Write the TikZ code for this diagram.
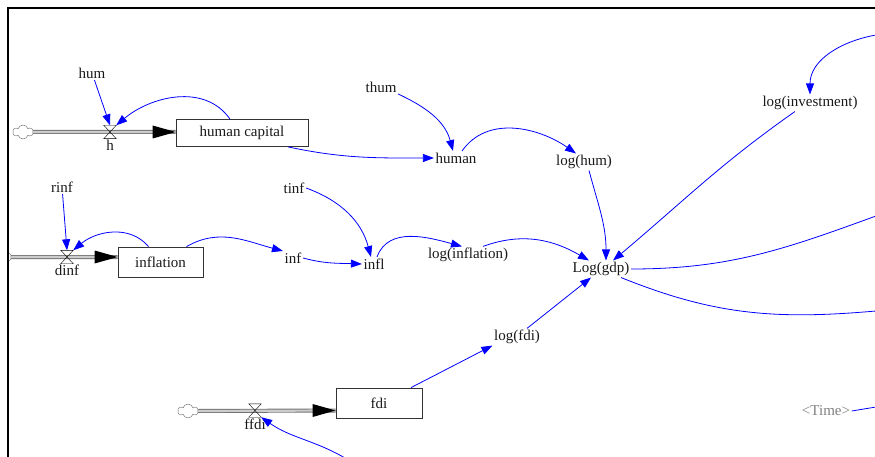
\documentclass[tikz,border=0pt]{standalone}
\usepackage{fontspec}
\setmainfont{Liberation Serif}
\usetikzlibrary{arrows.meta,shapes.symbols,positioning}

\tikzset{
	varname/.style={inner sep=1.5pt, text=black!90},
	stockbox/.style={draw=black!80, line width=0.8pt, fill=white, inner sep=0pt, text=black!90},
	valve/.style={minimum width=12pt, minimum height=13pt, inner sep=0pt},
	pipe/.style={draw=black!55, double=black!20, double distance=2.2pt, line width=0.9pt},
	link/.style={blue, line width=0.8pt, -{Triangle[length=11pt,width=8pt]}},
	wire/.style={blue, line width=0.8pt},
	cloudy/.style={cloud, cloud puffs=6, aspect=1.5, draw=black!60, fill=white, minimum width=20pt, minimum height=14pt, inner sep=0pt}
}

\begin{document}
\begin{tikzpicture}[x=1pt,y=1pt,font=\fontsize{15}{18}\selectfont]
		\useasboundingbox (0,0) rectangle (875,-457);
		% frame
		\draw [line width=2pt] (8,-458) -- (8,-8) -- (876,-8);

		% human capital stock and its flow
		\node [cloudy] (cloudh) at (23,-132) {};
		\node [stockbox, minimum width=132pt, minimum height=27pt] (hcap) at (242,-133) {human capital};
		\node [valve] (h) at (110,-132) {};
		\draw [pipe] (cloudh.east) -- (hcap.west |- h);
		\fill (hcap.west |- h) -- ++(-23,6.5) -- ++(0,-13) -- cycle;
		\draw (h.north west) -- (h.north east) -- (h.south west) -- (h.south east) -- cycle;
		\node [varname, below=0pt of h] (hname) {h};

		% inflation stock and its flow
		\begin{scope}
			\clip (9,-240) rectangle (40,-275);
			\node [cloudy] (cloudinf) at (1,-257) {};
		\end{scope}
		\node [stockbox, minimum width=85pt, minimum height=30pt] (inflation) at (160.5,-262) {inflation};
		\node [valve] (dinf) at (67,-257) {};
		\draw [pipe] (cloudinf.east) -- (inflation.west |- dinf);
		\fill (inflation.west |- dinf) -- ++(-23,6.5) -- ++(0,-13) -- cycle;
		\draw (dinf.north west) -- (dinf.north east) -- (dinf.south west) -- (dinf.south east) -- cycle;
		\node [varname, below=0pt of dinf] (dinfname) {dinf};

		% fdi stock and its flow
		\node [cloudy] (cloudfdi) at (188,-411) {};
		\node [stockbox, minimum width=86pt, minimum height=30pt] (fdi) at (379,-403) {fdi};
		\node [valve] (ffdi) at (255,-410.5) {};
		\draw [pipe] (cloudfdi.east) -- (fdi.west |- ffdi);
		\fill (fdi.west |- ffdi) -- ++(-23,6.5) -- ++(0,-13) -- cycle;
		\draw (ffdi.north west) -- (ffdi.north east) -- (ffdi.south west) -- (ffdi.south east) -- cycle;
		\node [varname, below=0pt of ffdi] (ffdiname) {ffdi};

		% auxiliaries
		\node [varname] (hum) at (92,-73) {hum};
		\node [varname] (thum) at (381,-87) {thum};
		\node [varname] (human) at (456,-158) {human};
		\node [varname] (loghum) at (584,-162) {log(hum)};
		\node [varname] (rinf) at (62,-187) {rinf};
		\node [varname] (tinf) at (294,-188) {tinf};
		\node [varname] (inf) at (293,-258) {inf};
		\node [varname] (infl) at (374,-264) {infl};
		\node [varname] (loginf) at (468,-255) {log(inflation)};
		\node [varname] (loggdp) at (601,-269) {Log(gdp)};
		\node [varname] (loginv) at (810,-103) {log(investment)};
		\node [varname] (logfdi) at (517,-337) {log(fdi)};
		\node [varname, text=black!50] (time) at (826,-411) {<Time>};

		% loose ends leaving the frame
		\coordinate (invin) at (876,-35);
		\coordinate (gdpout) at (876,-216);
		\coordinate (gdpdown) at (876,-311);
		\coordinate (fdiin) at (345,-458);
		\coordinate (timeout) at (876,-407);

		% links
		\draw [link] (hum) -- (h.north);
		\draw [link] ([xshift=-12pt]hcap.north) to [out=125,in=40] (h.north east);
		\draw [link] ([xshift=46pt]hcap.south) to [out=-12,in=180] (human.west);
		\draw [link] (thum.south east) to [out=-25,in=105] ([xshift=-3pt]human.north);
		\draw [link] ([xshift=6pt]human.north) to [out=55,in=145] ([xshift=-8pt]loghum.north);
		\draw [link] ([xshift=5pt]loghum.south) to [out=-75,in=90] ([xshift=5pt]loggdp.north);
		\draw [link] (rinf) -- (dinf.north);
		\draw [link] ([xshift=-12pt]inflation.north) to [out=130,in=40] (dinf.north east);
		\draw [link] ([xshift=26pt]inflation.north) to [out=30,in=165] (inf.north west);
		\draw [link] (tinf.east) to [out=-20,in=105] ([xshift=-3pt]infl.north);
		\draw [link] (inf.east) to [out=-15,in=178] (infl.west);
		\draw [link] ([xshift=3pt]infl.north) to [out=70,in=165] ([xshift=-6pt]loginf.north);
		\draw [link] ([xshift=15pt]loginf.north) to [out=20,in=150] ([xshift=-12pt]loggdp.north);
		\draw [wire] (loggdp.east) to [out=0,in=200] (gdpout);
		\draw [wire] ([xshift=20pt]loggdp.south) to [out=-22,in=185] (gdpdown);
		\draw [link] (invin) to [out=190,in=90] (loginv.north);
		\draw [link] ([xshift=-15pt]loginv.south) to [out=215,in=40] ([xshift=12pt]loggdp.north);
		\draw [link] ([xshift=32pt]fdi.north) -- (logfdi.south west);
		\draw [link] ([xshift=10pt]logfdi.north) -- ([xshift=-10pt]loggdp.south);
		\draw [link] (fdiin) to [out=150,in=-35] (ffdi.south east);
		\draw [wire] (time.east) -- (timeout);
\end{tikzpicture}
\end{document}
